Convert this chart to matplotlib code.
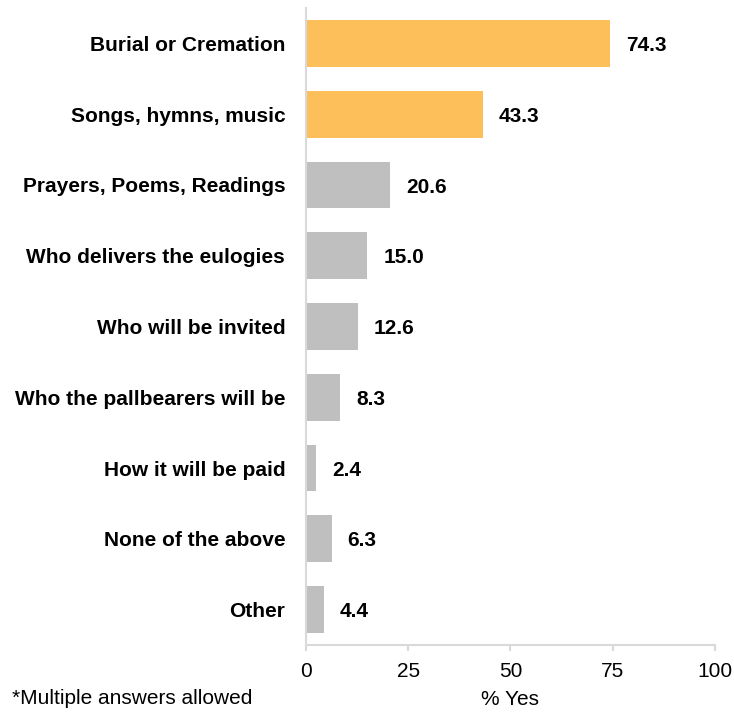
import matplotlib as mpl
mpl.use('Agg')
import matplotlib.pyplot as plt
import numpy as np

categories = ["Burial or Cremation", "Songs, hymns, music", "Prayers, Poems, Readings",
              "Who delivers the eulogies", "Who will be invited", "Who the pallbearers will be",
              "How it will be paid", "None of the above", "Other"]
values = [74.3, 43.3, 20.6, 15.0, 12.6, 8.3, 2.4, 6.3, 4.4]
highlight = [True, True, False, False, False, False, False, False, False]
xticks = [0, 25, 50, 75, 100]

plt.rcParams['font.family'] = ['Liberation Sans', 'DejaVu Sans']

fig = plt.figure(figsize=(7.34, 7.12), dpi=100)
ax = fig.add_axes([306/734, 1 - 645/712, (715 - 306)/734, (645 - 8)/712])

ys = np.arange(len(categories))
colors = ["#FDBF59" if h else "#BFBFBF" for h in highlight]
ax.barh(ys, values, height=0.66, color=colors)

for y, v in zip(ys, values):
    ax.text(v + 3.9, y + 0.03, f"{v:.1f}", va='center', ha='left', fontsize=15, fontweight='bold')

ax.set_ylim(len(categories) - 0.5, -0.5)
ax.set_xlim(0, 100)
ax.set_yticks(ys)
ax.set_yticklabels(categories, fontsize=15, fontweight='bold')
ax.set_xticks(xticks)
ax.set_xticklabels([str(t) for t in xticks], fontsize=15)
ax.tick_params(axis='y', length=0, pad=15)
ax.tick_params(axis='x', direction='out', length=4, color='#D9D9D9', width=1.5, pad=8)

for s in ['top', 'right']:
    ax.spines[s].set_visible(False)
for s in ['left', 'bottom']:
    ax.spines[s].set_color('#D9D9D9')
    ax.spines[s].set_linewidth(1.5)

ax.set_xlabel("% Yes", fontsize=15, labelpad=7)
fig.text(12/734, 1 - 699/712, "*Multiple answers allowed", fontsize=15, va='center', ha='left')

fig.savefig("out.png", dpi=100)
